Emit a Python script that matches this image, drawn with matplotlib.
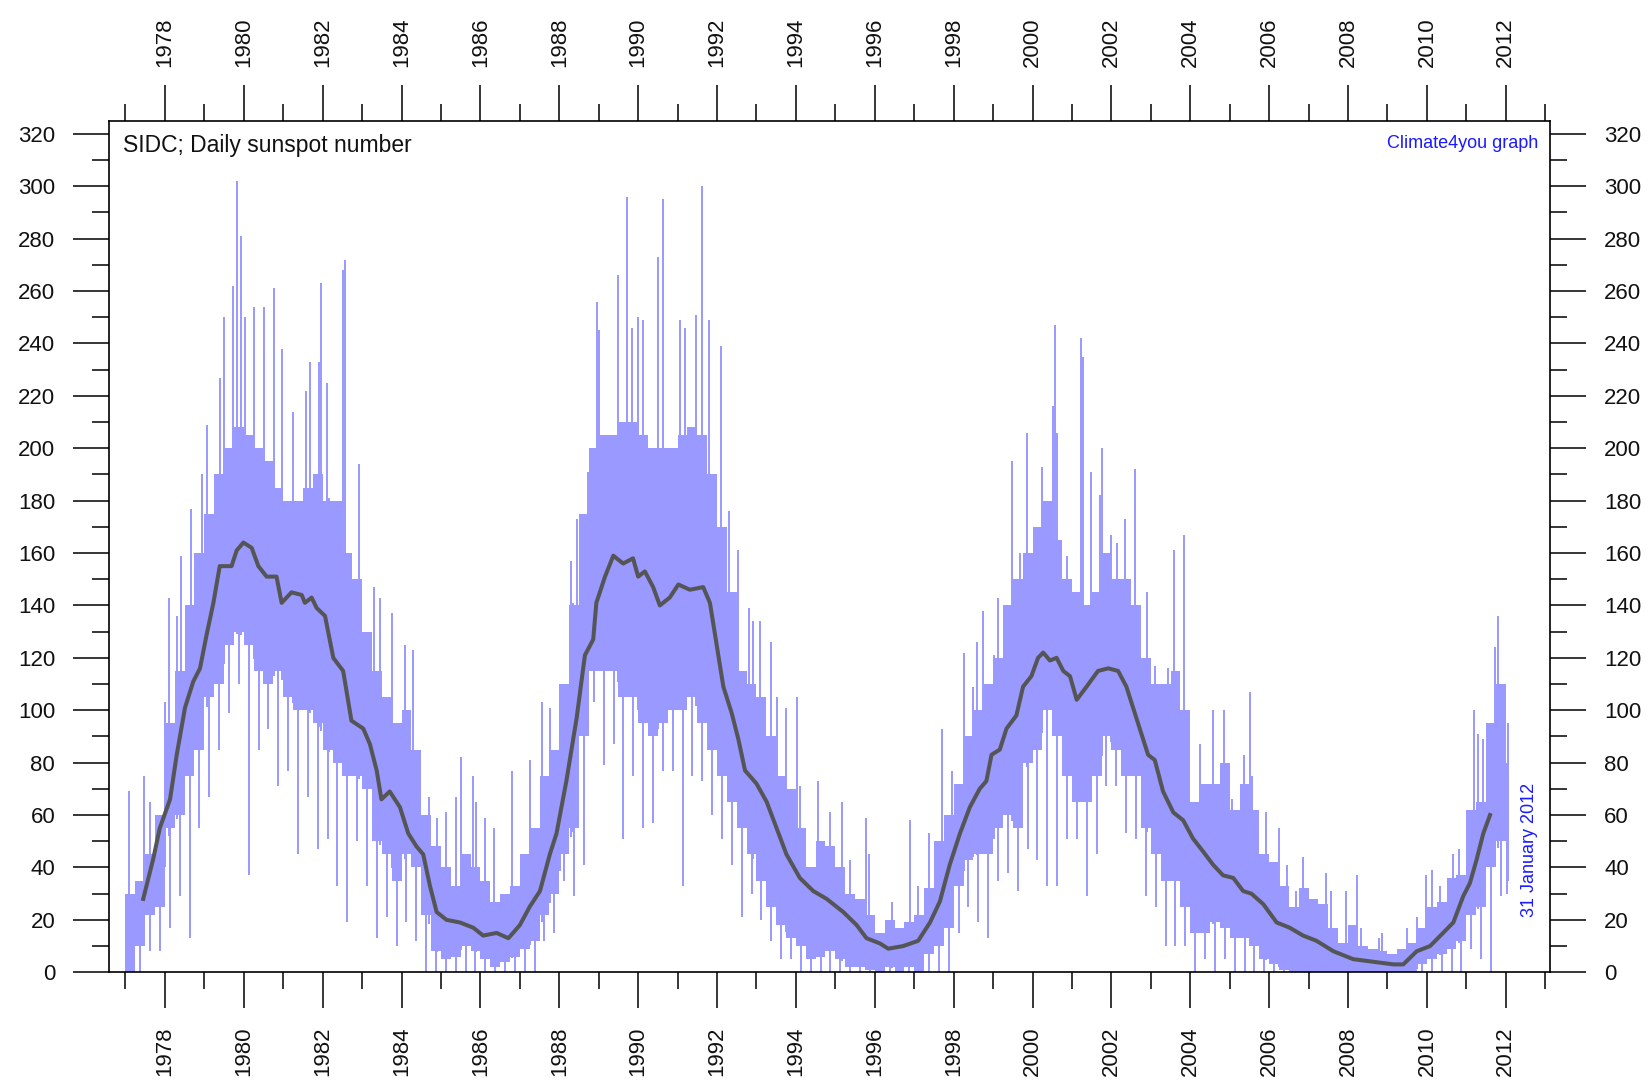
import matplotlib
matplotlib.use("Agg")
import matplotlib.pyplot as plt
import numpy as np
from matplotlib.ticker import MultipleLocator

plt.rcParams["font.family"] = ["Liberation Sans", "DejaVu Sans"]

# quarter start dates of the daily record (1977.0 ... 2012.0)
quarter_start = np.arange(1977.0, 2012.01, 0.25)
record_end = 2012.08  # 31 January 2012

# dense part of the daily values in each quarter (top / bottom)
band_top = [
    30, 35, 45, 60,      # 1977
    95, 115, 140, 160,   # 1978
    175, 190, 200, 208,  # 1979
    205, 200, 195, 185,  # 1980
    180, 180, 185, 190,  # 1981
    180, 180, 160, 150,  # 1982
    130, 115, 105, 95,   # 1983
    100, 85, 60, 48,     # 1984
    40, 33, 45, 40,      # 1985
    35, 27, 30, 33,      # 1986
    45, 55, 75, 85,      # 1987
    110, 140, 175, 200,  # 1988
    205, 205, 210, 210,  # 1989
    205, 200, 200, 200,  # 1990
    205, 208, 205, 190,  # 1991
    170, 145, 115, 110,  # 1992
    105, 90, 75, 70,     # 1993
    55, 40, 50, 48,      # 1994
    40, 30, 28, 22,      # 1995
    15, 20, 17, 19,      # 1996
    22, 32, 50, 60,      # 1997
    72, 90, 100, 110,    # 1998
    120, 140, 150, 160,  # 1999
    170, 180, 165, 150,  # 2000
    145, 140, 145, 160,  # 2001
    150, 150, 140, 120,  # 2002
    110, 110, 115, 100,  # 2003
    65, 72, 72, 80,      # 2004
    62, 72, 62, 45,      # 2005
    42, 33, 25, 32,      # 2006
    28, 26, 17, 11,      # 2007
    18, 10, 9, 8,        # 2008
    7, 9, 11, 17,        # 2009
    25, 27, 36, 37,      # 2010
    62, 65, 95, 110,     # 2011
    80,                  # 2012
]
band_bottom = [
    0, 10, 22, 25,
    55, 60, 75, 85,
    105, 110, 125, 130,
    125, 115, 110, 115,
    105, 100, 100, 95,
    85, 80, 75, 75,
    70, 50, 45, 35,
    45, 40, 22, 8,
    5, 6, 10, 8,
    5, 2, 4, 6,
    9, 12, 22, 30,
    45, 55, 90, 115,
    115, 115, 105, 105,
    95, 90, 95, 100,
    100, 105, 95, 85,
    75, 65, 55, 45,
    35, 25, 18, 13,
    10, 5, 6, 8,
    5, 2, 2, 1,
    0, 2, 0, 2,
    0, 7, 10, 17,
    33, 43, 45, 45,
    55, 60, 55, 80,
    85, 100, 90, 75,
    65, 65, 75, 90,
    85, 75, 75, 55,
    45, 35, 35, 25,
    15, 15, 19, 17,
    13, 13, 10, 5,
    3, 1, 0, 0,
    0, 0, 0, 0,
    0, 0, 0, 0,
    0, 0, 0, 3,
    5, 7, 9, 12,
    22, 25, 40, 50,
    35,
]
# lowest daily value in each quarter
band_dip = [
    0, 0, 8, 8,
    17, 29, 13, 55,
    67, 85, 99, 110,
    37, 85, 93, 71,
    77, 45, 67, 47,
    51, 33, 19, 50,
    33, 13, 21, 10,
    19, 12, 0, 0,
    0, 0, 0, 0,
    0, 0, 0, 0,
    0, 0, 12, 15,
    35, 29, 41, 103,
    79, 87, 51, 75,
    55, 57, 77, 77,
    33, 75, 73, 60,
    51, 41, 21, 30,
    20, 12, 5, 5,
    0, 0, 0, 0,
    0, 0, 0, 0,
    0, 0, 0, 0,
    0, 0, 0, 0,
    15, 25, 19, 13,
    35, 38, 31, 47,
    43, 33, 33, 51,
    51, 29, 45, 71,
    71, 53, 51, 29,
    25, 10, 10, 10,
    0, 5, 0, 5,
    0, 0, 0, 0,
    0, 0, 0, 0,
    0, 0, 0, 0,
    0, 0, 0, 0,
    0, 0, 0, 0,
    0, 0, 0, 0,
    9, 5, 0, 29,
    30,
]

# tallest single days
spike_year = [
    1977.10, 1977.48, 1977.62, 1978.00, 1978.10, 1978.30, 1978.42, 1978.66,
    1978.95, 1979.08, 1979.39, 1979.50, 1979.73, 1979.83, 1979.93, 1980.03,
    1980.26, 1980.52, 1980.77, 1980.96, 1981.24, 1981.58, 1981.68, 1981.91,
    1981.95, 1982.10, 1982.17, 1982.52, 1982.57, 1982.93, 1983.31, 1983.45,
    1983.76, 1984.08, 1984.30, 1984.69, 1984.89, 1985.14, 1985.39, 1985.52,
    1985.80, 1985.90, 1986.11, 1986.34, 1986.81, 1987.25, 1987.55, 1987.76,
    1988.02, 1988.29, 1988.34, 1988.44, 1988.66, 1988.72, 1988.96, 1989.00,
    1989.48, 1989.71, 1989.85, 1990.00, 1990.13, 1990.51, 1990.64, 1991.06,
    1991.18, 1991.46, 1991.63, 1991.80, 1992.10, 1992.31, 1992.53, 1992.80,
    1992.92, 1993.09, 1993.38, 1993.51, 1993.76, 1994.03, 1994.10, 1994.57,
    1994.86, 1995.17, 1995.37, 1995.77, 1995.86, 1996.43, 1996.89, 1997.10,
    1997.37, 1997.70, 1997.95, 1998.27, 1998.49, 1998.58, 1998.75, 1999.02,
    1999.13, 1999.49, 1999.68, 1999.86, 2000.23, 2000.51, 2000.57, 2000.61,
    2000.88, 2001.23, 2001.28, 2001.47, 2001.71, 2001.75, 2001.98, 2002.13,
    2002.34, 2002.59, 2002.91, 2003.10, 2003.44, 2003.58, 2003.84, 2004.24,
    2004.58, 2004.85, 2005.06, 2005.36, 2005.51, 2005.56, 2005.93, 2006.25,
    2006.44, 2006.69, 2006.86, 2007.44, 2007.56, 2007.95, 2008.23, 2008.34,
    2008.79, 2008.85, 2009.50, 2009.74, 2009.98, 2010.12, 2010.33, 2010.65,
    2010.82, 2011.19, 2011.30, 2011.43, 2011.72, 2011.81, 2012.06,
]
spike_value = [
    69, 75, 65, 103, 143, 136, 159, 177,
    190, 209, 227, 250, 262, 302, 281, 250,
    254, 254, 261, 238, 214, 222, 233, 233,
    263, 225, 181, 268, 272, 194, 147, 143,
    137, 125, 123, 67, 59, 61, 67, 82,
    75, 65, 59, 55, 77, 81, 103, 101,
    93, 157, 141, 173, 173, 191, 256, 245,
    266, 296, 246, 250, 249, 273, 295, 249,
    246, 251, 300, 249, 239, 176, 161, 139,
    134, 134, 126, 105, 101, 105, 71, 73,
    61, 65, 43, 59, 45, 27, 58, 33,
    53, 93, 77, 122, 109, 126, 138, 121,
    143, 195, 160, 206, 193, 216, 247, 206,
    159, 242, 235, 191, 182, 200, 167, 164,
    173, 192, 145, 117, 116, 161, 167, 87,
    100, 100, 66, 83, 107, 75, 61, 55,
    41, 31, 44, 38, 31, 31, 37, 17,
    13, 15, 17, 21, 37, 39, 33, 45,
    47, 100, 91, 89, 124, 136, 95,
]

# running mean
mean_year = [
    1977.45, 1977.70, 1977.87, 1978.13, 1978.30, 1978.51, 1978.72, 1978.89,
    1979.06, 1979.23, 1979.39, 1979.69, 1979.82, 1979.99, 1980.20, 1980.37,
    1980.58, 1980.83, 1980.96, 1981.21, 1981.47, 1981.55, 1981.72, 1981.85,
    1982.06, 1982.27, 1982.52, 1982.73, 1983.03, 1983.20, 1983.37, 1983.49,
    1983.70, 1983.96, 1984.17, 1984.38, 1984.55, 1984.72, 1984.89, 1985.14,
    1985.48, 1985.82, 1986.07, 1986.41, 1986.71, 1987.00, 1987.25, 1987.51,
    1987.76, 1987.93, 1988.18, 1988.44, 1988.65, 1988.86, 1988.94, 1989.16,
    1989.37, 1989.62, 1989.87, 1990.00, 1990.17, 1990.38, 1990.55, 1990.80,
    1991.02, 1991.31, 1991.65, 1991.82, 1991.99, 1992.16, 1992.37, 1992.54,
    1992.71, 1993.00, 1993.26, 1993.51, 1993.76, 1994.10, 1994.44, 1994.78,
    1995.20, 1995.54, 1995.79, 1996.13, 1996.34, 1996.72, 1997.10, 1997.40,
    1997.65, 1997.90, 1998.16, 1998.41, 1998.66, 1998.83, 1998.96, 1999.17,
    1999.34, 1999.59, 1999.76, 1999.97, 2000.14, 2000.27, 2000.44, 2000.61,
    2000.78, 2000.95, 2001.12, 2001.37, 2001.66, 2001.92, 2002.17, 2002.38,
    2002.55, 2002.72, 2002.93, 2003.10, 2003.31, 2003.57, 2003.82, 2004.07,
    2004.33, 2004.58, 2004.83, 2005.09, 2005.34, 2005.55, 2005.85, 2006.19,
    2006.52, 2006.86, 2007.20, 2007.63, 2008.13, 2008.64, 2009.15, 2009.40,
    2009.74, 2010.08, 2010.41, 2010.67, 2010.92, 2011.09, 2011.26, 2011.43,
    2011.60,
]
mean_value = [
    28, 43, 55, 66, 83, 101, 111, 116,
    129, 141, 155, 155, 161, 164, 162, 155,
    151, 151, 141, 145, 144, 141, 143, 139,
    136, 120, 115, 96, 93, 87, 77, 66,
    69, 63, 53, 48, 45, 33, 23, 20,
    19, 17, 14, 15, 13, 18, 25, 31,
    45, 53, 73, 97, 121, 127, 141, 151,
    159, 156, 158, 151, 153, 147, 140, 143,
    148, 146, 147, 141, 125, 109, 99, 89,
    77, 72, 65, 55, 45, 36, 31, 28,
    23, 18, 13, 11, 9, 10, 12, 19,
    27, 41, 53, 63, 70, 73, 83, 85,
    93, 98, 109, 113, 120, 122, 119, 120,
    115, 113, 104, 109, 115, 116, 115, 109,
    101, 93, 83, 81, 69, 61, 58, 51,
    46, 41, 37, 36, 31, 30, 26, 19,
    17, 14, 12, 8, 5, 4, 3, 3,
    8, 10, 15, 19, 29, 34, 43, 53,
    60,
]

daily_color = "#9999ff"
mean_color = "#555555"
label_blue = "#1a1aff"

fig = plt.figure(figsize=(16.51, 10.81), dpi=100)
ax = fig.add_axes([0.0662, 0.1006, 0.8726, 0.7877])

# daily numbers: dense band per quarter, then the dips and the tall days
edges = np.append(quarter_start, record_end)
ax.stairs(band_top, edges, baseline=band_bottom, fill=True,
          color=daily_color, linewidth=0, zorder=1)
centers = (edges[:-1] + edges[1:]) / 2
ax.vlines(centers, band_dip, band_bottom, color=daily_color, linewidth=1.4, zorder=1)
spike_base = np.interp(spike_year, centers, band_bottom)
ax.vlines(spike_year, spike_base, spike_value, color=daily_color, linewidth=1.4, zorder=1)

# running mean
ax.plot(mean_year, mean_value, color=mean_color, linewidth=2.9, zorder=3)

ax.set_xlim(1976.59, 2013.12)
ax.set_ylim(0, 325)

ax.xaxis.set_minor_locator(MultipleLocator(1))
ax.yaxis.set_minor_locator(MultipleLocator(10))
ax.set_xticks(np.arange(1978, 2013, 2))
ax.set_yticks(np.arange(0, 321, 20))

ax.tick_params(which="both", direction="out", top=True, right=True,
               labeltop=True, labelright=True, width=1.1, color="black")
ax.tick_params(which="major", length=26, labelsize=16, pad=13, labelcolor="#111111")
ax.tick_params(which="minor", length=12.5)
ax.tick_params(axis="x", which="major", labelrotation=90)

for spine in ax.spines.values():
    spine.set_linewidth(1.2)

ax.text(0.0095, 0.9715, "SIDC; Daily sunspot number", transform=ax.transAxes,
        ha="left", va="center", fontsize=16.5, color="#111111")
ax.text(0.9917, 0.9738, "Climate4you graph", transform=ax.transAxes,
        ha="right", va="center", fontsize=13, color=label_blue)
ax.text(0.986, 0.1436, "31 January 2012", transform=ax.transAxes,
        ha="center", va="center", rotation=90, fontsize=13, color=label_blue)

fig.savefig("out.png", dpi=100)
